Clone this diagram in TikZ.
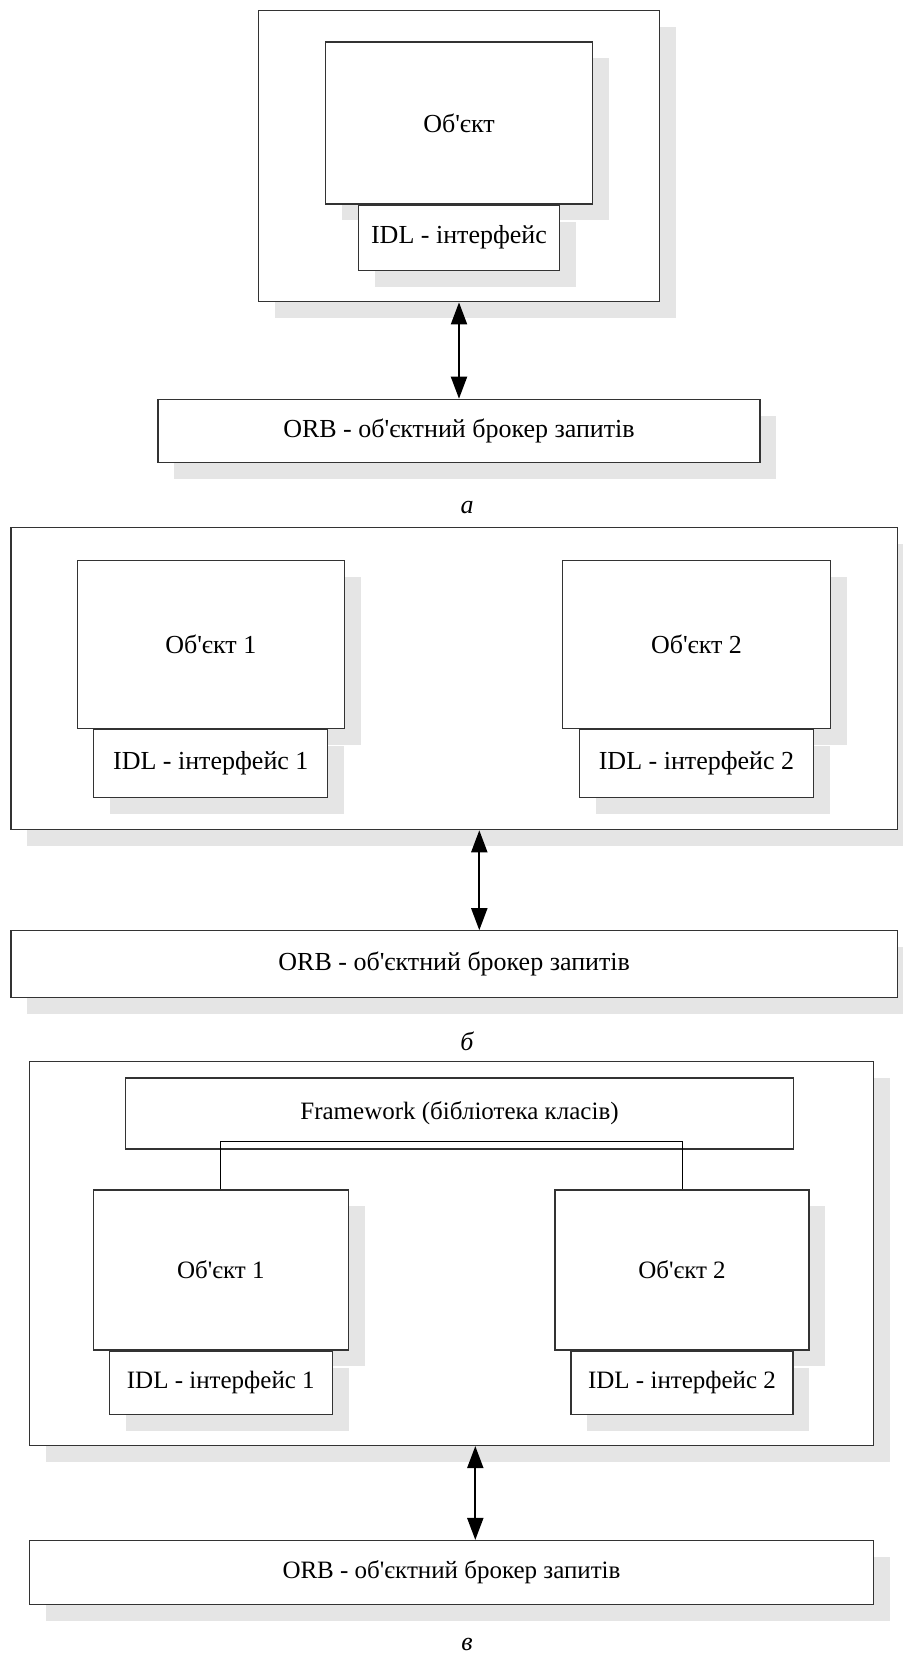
\documentclass[tikz,border=0pt]{standalone}
\usepackage{fontspec}
\setmainfont{Liberation Serif}
\usepackage{tikz}
\usetikzlibrary{arrows.meta, positioning, shadows}

\newcommand{\obj}{Об\textquotesingle єкт}

\begin{document}
\begin{tikzpicture}[
        x=0.5pt, y=-0.5pt, % 1 unit = 1 px of the sheet, y runs down
        font=\fontsize{13}{15}\selectfont,
        % styles
        box/.style={rectangle, draw=black!80, line width=0.6pt, fill=white, inner sep=0pt, text centered},
        shbox/.style={box, general shadow={fill=black!10, shadow xshift=8.2pt, shadow yshift=-8.2pt}},
        narrow/.style={font=\fontsize{12.5}{15}\selectfont},
        caption/.style={font=\fontsize{13}{15}\selectfont\itshape},
        arrow/.style={line width=1pt, {Triangle[length=11pt,width=8pt]}-{Triangle[length=11pt,width=8pt]}},
        link/.style={line width=0.5pt} ]

    \useasboundingbox (0,0) rectangle (902,1655);

    % --- a: one object ---
    \node (outA) [shbox, minimum width=200.2pt, minimum height=145.8pt] at (459,156) {};
    \node (objA) [shbox, minimum width=133.5pt, minimum height=81pt] at (459,123) {\obj};
    \node (idlA) [shbox, minimum width=100.3pt, minimum height=32.5pt, below=0pt of objA] {IDL - інтерфейс};
    \node (orbA) [shbox, minimum width=301pt, minimum height=31.7pt] at (459,431) {ORB - об\textquotesingle єктний брокер запитів};
    \node (capA) [caption] at (467,508) {а};

    \draw [arrow] (outA) -- (orbA);

    % --- b: two objects ---
    \node (outB) [shbox, minimum width=443.2pt, minimum height=151.2pt] at (454.2,678.5) {};
    \node (objB1) [shbox, minimum width=133.5pt, minimum height=83.8pt] at (210.8,644.5) {\obj{} 1};
    \node (idlB1) [shbox, minimum width=117pt, minimum height=33.8pt, below=0pt of objB1] {IDL - інтерфейс 1};
    \node (objB2) [shbox, minimum width=134pt, minimum height=83.8pt] at (696.5,644.5) {\obj{} 2};
    \node (idlB2) [shbox, minimum width=117pt, minimum height=33.8pt, below=0pt of objB2] {IDL - інтерфейс 2};
    \node (orbB) [shbox, minimum width=443.2pt, minimum height=33.2pt] at (454.2,964) {ORB - об\textquotesingle єктний брокер запитів};
    \node (capB) [caption] at (467,1041) {б};

    \coordinate (armB) at (479.3,0);
    \draw [arrow] (outB.south -| armB) -- (orbB.north -| armB);

    % --- c: objects on a framework ---
    \node (outC) [shbox, minimum width=422pt, minimum height=192pt] at (451.5,1253.5) {};
    \node (fwC) [box, narrow, minimum width=334pt, minimum height=35.5pt] at (459.5,1113.5) {Framework (бібліотека класів)};
    \node (objC1) [shbox, narrow, minimum width=127.5pt, minimum height=80pt] at (220.8,1270) {\obj{} 1};
    \node (idlC1) [shbox, narrow, minimum width=111.5pt, minimum height=31.7pt, below=0pt of objC1] {IDL - інтерфейс 1};
    \node (objC2) [shbox, narrow, minimum width=127pt, minimum height=80pt] at (682,1270) {\obj{} 2};
    \node (idlC2) [shbox, narrow, minimum width=111pt, minimum height=31.7pt, below=0pt of objC2] {IDL - інтерфейс 2};
    \node (orbC) [shbox, narrow, minimum width=422pt, minimum height=31.8pt] at (451.5,1572.3) {ORB - об\textquotesingle єктний брокер запитів};
    \node (capC) [caption] at (467,1644) {в};

    \draw [link] (objC1.north) |- ([yshift=4pt]fwC.south) -| (objC2.north);

    \coordinate (armC) at (475.3,0);
    \draw [arrow] (outC.south -| armC) -- (orbC.north -| armC);

    \end{tikzpicture}
\end{document}
